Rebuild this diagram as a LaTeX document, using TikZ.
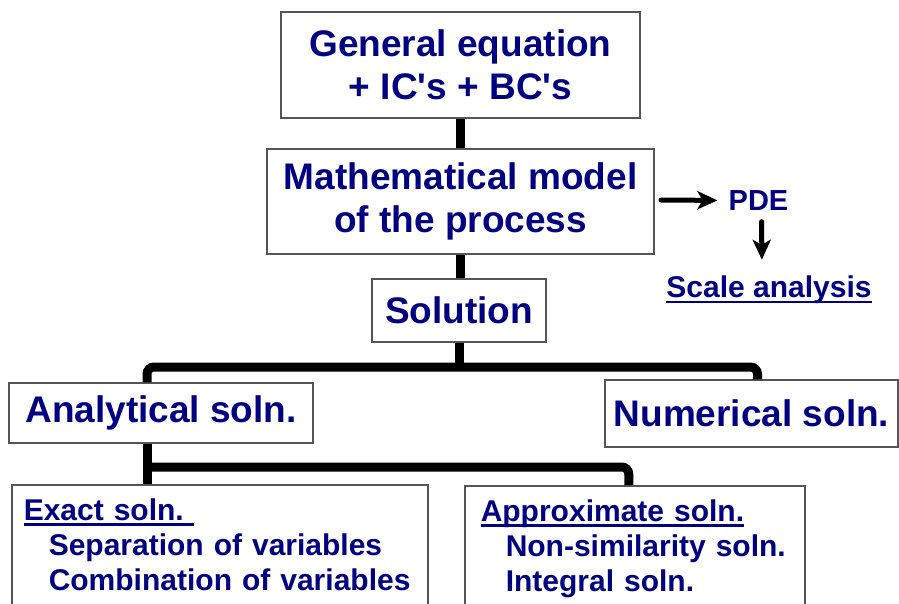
\documentclass[tikz,border=0pt]{standalone}
\usepackage{fontspec}
\setmainfont{Liberation Sans}
\usetikzlibrary{arrows.meta, positioning}
\definecolor{solnavy}{RGB}{0, 0, 128}
\definecolor{framegray}{RGB}{85, 85, 85}
\newcommand{\undl}[1]{\setbox0\hbox{#1}\rlap{\rule[-5.5pt]{\wd0}{2.5pt}}\box0}
\tikzset{
  stagebox/.style={draw=framegray, line width=1.5pt, fill=white, inner sep=0pt, text=solnavy,
    font=\bfseries\fontsize{37}{43}\selectfont, align=center},
  listbox/.style={draw=framegray, line width=1.5pt, fill=white, anchor=north west, text=solnavy,
    font=\bfseries\fontsize{30}{35}\selectfont, align=left, inner xsep=12pt, inner ysep=14pt},
  trunk/.style={line width=9pt, rounded corners=7pt},
  arr/.style={line width=5pt, line cap=round, -{Stealth[length=20pt, width=18pt, inset=5pt]}},
  note/.style={text=solnavy, inner sep=0pt, font=\bfseries\fontsize{29}{35}\selectfont}
}

\begin{document}
\begin{tikzpicture}[x=1pt, y=-1pt]
\clip (0,0) rectangle (899,604);
% Model chain
\node[stagebox, minimum width=359, minimum height=106] (gen) at (460.5,65) {General equation\\+ IC\textquotesingle s + BC\textquotesingle s};
\node[stagebox, minimum width=387, minimum height=105] (model) at (460.5,201.5) {Mathematical model\\of the process};
\node[stagebox, minimum width=174, minimum height=63] (sol) at (459,310.5) {Solution};
% Two kinds of solution
\node[stagebox, minimum width=304, minimum height=60] (ana) at (161,413) {Analytical soln.};
\node[stagebox, minimum width=293, minimum height=67] (num) at (751.5,413.5) {Numerical soln.};
% Analytical methods
\node[listbox, text width=392] (exact) at (11,484) {\undl{Exact soln.\ }\\
  \hspace*{25pt}Separation of variables\\
  \hspace*{25pt}Combination of variables\rule[-30pt]{0pt}{1pt}};
\node[listbox, inner xsep=16pt, text width=308] (approx) at (464,485) {\undl{Approximate soln.}\\
  \hspace*{25pt}Non-similarity soln.\\
  \hspace*{25pt}Integral soln.\rule[-30pt]{0pt}{1pt}};
% Side remark
\node[note] (pde) at (758.5,200.5) {PDE};
\node[note, font=\bfseries\fontsize{30}{35}\selectfont] (scale) at (769,290) {\undl{Scale analysis}};
\coordinate (pdetail) at (661,200);
\draw[arr, shorten >=11pt] (pdetail) -- (pde.west);
\draw[arr, shorten <=11pt, shorten >=16pt] ([xshift=3pt]pde.south) -- ([xshift=-7pt]scale.north);
% Tree connectors
\coordinate (split) at (459,367);
\coordinate (branch) at (147,467);
\draw[trunk] (gen.south) -- (model.north);
\draw[trunk] (model.south) -- (model.south |- sol.north);
\draw[trunk] (sol.south) -- (split);
\draw[trunk] ([xshift=-14pt]ana.north) |- (split) -| ([xshift=6pt]num.north);
\draw[trunk] (ana.south -| branch) -- (exact.north -| branch);
\draw[trunk] (branch) -| ([xshift=-6pt]approx.north);
\end{tikzpicture}
\end{document}
